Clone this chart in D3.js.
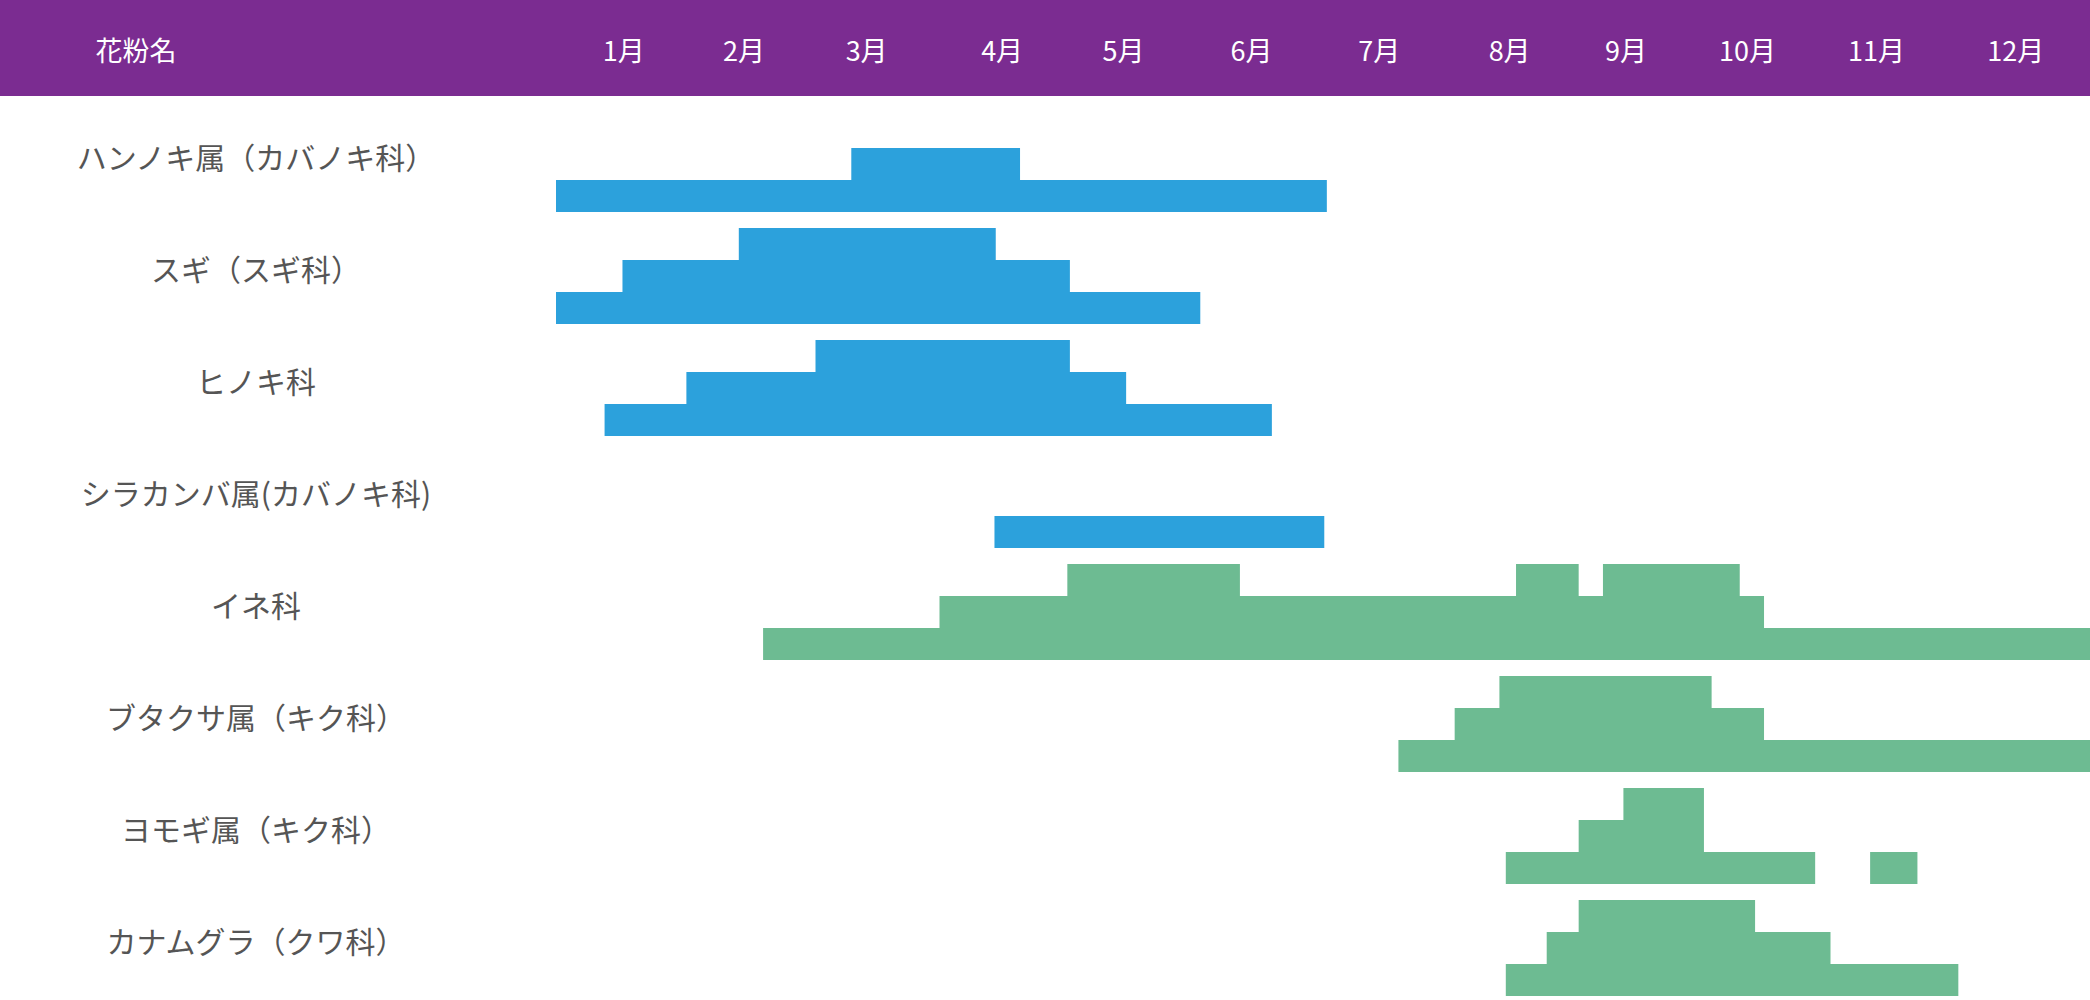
<!DOCTYPE html>
<html>
<head>
<meta charset="utf-8">
<script src="https://cdn.jsdelivr.net/npm/d3@7"></script>
<style>
	body { margin:0; background:#fff; }
	svg text { font-family:"Noto Sans CJK JP", sans-serif; }
</style>
</head>
<body>
<svg id="chart" width="2090" height="1000"></svg>
<script>
// pollen names and groups (tree = blue, grass = green)
const pollenNames = ["ハンノキ属（カバノキ科）", "スギ（スギ科）", "ヒノキ科", "シラカンバ属(カバノキ科)",
	"イネ科", "ブタクサ属（キク科）", "ヨモギ属（キク科）", "カナムグラ（クワ科）"];
const pollenGroup = ["tree", "tree", "tree", "tree", "grass", "grass", "grass", "grass"];

// month labels and where they sit on the month axis (0 = start of January)
const monthLabels = ["1月", "2月", "3月", "4月", "5月", "6月", "7月", "8月", "9月", "10月", "11月", "12月"];
const monthLabelPos = [0.53, 1.47, 2.43, 3.49, 4.44, 5.44, 6.44, 7.46, 8.37, 9.32, 10.33, 11.42];

// season bands: [row, level (1 = low, 3 = high), start month, end month]
const seasonBands = [
	[0, 1, 0, 6.03], [0, 2, 2.31, 3.63],
	[1, 1, 0, 5.04], [1, 2, 0.52, 4.02], [1, 3, 1.43, 3.44],
	[2, 1, 0.38, 5.60], [2, 2, 1.02, 4.46], [2, 3, 2.03, 4.02],
	[3, 1, 3.43, 6.01],
	[4, 1, 1.62, 12], [4, 2, 3.0, 9.45], [4, 3, 4.0, 5.35], [4, 3, 7.51, 8.0], [4, 3, 8.19, 9.26],
	[5, 1, 6.59, 12], [5, 2, 7.03, 9.45], [5, 3, 7.38, 9.04],
	[6, 1, 7.43, 9.85], [6, 1, 10.28, 10.65], [6, 2, 8.0, 8.98], [6, 3, 8.35, 8.98],
	[7, 1, 7.43, 10.97], [7, 2, 7.75, 9.97], [7, 3, 8.0, 9.38]
];

const W = 2090, HEADER = 96, ROW = 112, FIRST_BASE = 212, BAND = 32;
const colors = { tree: "#2ca1dc", grass: "#6dbb92" };

const svg = d3.select("#chart");
const x = d3.scaleLinear().domain([0, 12]).range([556, W]);
const base = d3.scaleLinear().domain([0, 1]).range([FIRST_BASE, FIRST_BASE + ROW]);

svg.append("rect").attr("width", W).attr("height", HEADER).attr("fill", "#7b2c91");
svg.append("text").attr("x", 136).attr("y", 52).attr("dy", "0.35em")
	.attr("text-anchor", "middle").attr("fill", "#fff").style("font-size", "27px").text("花粉名");
svg.selectAll(".month").data(monthLabels).enter().append("text")
	.attr("x", (d, i) => x(monthLabelPos[i])).attr("y", 52).attr("dy", "0.35em")
	.attr("text-anchor", "middle").attr("fill", "#fff").style("font-size", "27px").text(d => d);

svg.selectAll(".name").data(pollenNames).enter().append("text")
	.attr("x", 256).attr("y", (d, i) => base(i) - 54).attr("dy", "0.35em")
	.attr("text-anchor", "middle").attr("fill", "#555").style("font-size", "30px").text(d => d);

svg.selectAll(".band").data(seasonBands).enter().append("rect")
	.attr("x", d => x(d[2]))
	.attr("width", d => x(d[3]) - x(d[2]))
	.attr("y", d => base(d[0]) - d[1] * BAND)
	.attr("height", BAND)
	.attr("fill", d => colors[pollenGroup[d[0]]]);
</script>
</body>
</html>
